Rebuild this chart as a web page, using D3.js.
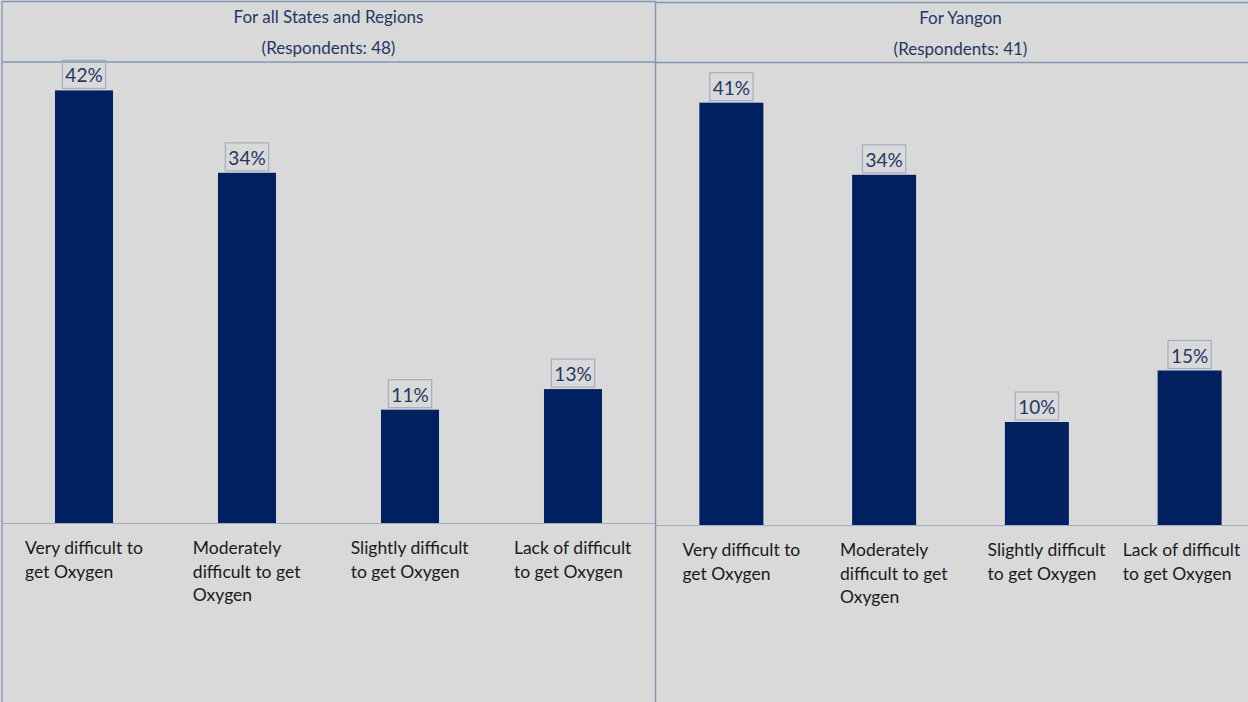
<!DOCTYPE html>
<html>
<head>
<meta charset="utf-8">
<script src="https://cdn.jsdelivr.net/npm/d3@7/dist/d3.min.js"></script>
<style>
  html, body { margin: 0; padding: 0; background: #d9d9d9; }
  svg { display: block; }
</style>
</head>
<body>
<svg id="chart" width="1248" height="702"></svg>
<script>
// Survey answers: how hard it was to get oxygen
const categories = ["very", "moderately", "slightly", "lack"];
const categoryLines = [
  ["Very difficult to", "get Oxygen"],
  ["Moderately", "difficult to get", "Oxygen"],
  ["Slightly difficult", "to get Oxygen"],
  ["Lack of difficult", "to get Oxygen"]
];
const allRegionsValues = [42, 34, 11, 13];
const yangonValues = [41, 34, 10, 15];
const panelTitles = ["For all States and Regions", "For Yangon"];
const respondentCounts = [48, 41];

const W = 1248, H = 702;
const svg = d3.select("#chart");
const borderColor = "#8497b0";
const navy = "#1f3864";
const barColor = "#002060";
const font = "Lato, 'Open Sans', sans-serif";

// Panel geometry
const panels = [
  { values: allRegionsValues, title: panelTitles[0], n: respondentCounts[0],
    left: 2, right: 655, top: 1.5, headerBottom: 62, baseline: 523,
    band: [2.5, 654.5], padInner: 0.644, titleY: [23, 54], labelShift: 0 },
  { values: yangonValues, title: panelTitles[1], n: respondentCounts[1],
    left: 655, right: 1266, top: 2.5, headerBottom: 62.5, baseline: 525,
    band: [655, 1266], padInner: 0.581, titleY: [24, 55], labelShift: 10 }
];
const pxPerPercent = 10.3;

panels.forEach(p => {
  const g = svg.append("g");

  // frame lines: top, header separator
  g.append("line").attr("x1", p.left).attr("x2", Math.min(p.right, W))
    .attr("y1", p.top).attr("y2", p.top)
    .attr("stroke", borderColor).attr("stroke-width", 1.4);
  g.append("line").attr("x1", p.left).attr("x2", Math.min(p.right, W))
    .attr("y1", p.headerBottom).attr("y2", p.headerBottom)
    .attr("stroke", borderColor).attr("stroke-width", 1.3);

  // header text
  g.append("text").attr("x", (p.left + p.right) / 2).attr("y", p.titleY[0])
    .attr("text-anchor", "middle").attr("font-family", font).attr("font-size", 17)
    .attr("fill", navy).text(p.title);
  g.append("text").attr("x", (p.left + p.right) / 2).attr("y", p.titleY[1])
    .attr("text-anchor", "middle").attr("font-family", font).attr("font-size", 17)
    .attr("fill", navy).text(`(Respondents: ${p.n})`);

  const x = d3.scaleBand().domain(categories).range(p.band)
    .paddingInner(p.padInner).paddingOuter(p.padInner / 2);
  const y = d3.scaleLinear().domain([0, 50])
    .range([p.baseline, p.baseline - 50 * pxPerPercent]);

  const rows = categories.map((c, i) => ({ c, v: p.values[i], lines: categoryLines[i] }));

  // bars
  g.selectAll("rect.bar").data(rows).join("rect").attr("class", "bar")
    .attr("x", d => x(d.c)).attr("width", x.bandwidth())
    .attr("y", d => y(d.v)).attr("height", d => y(0) - y(d.v))
    .attr("fill", barColor);

  // category axis line
  g.append("line").attr("x1", p.left).attr("x2", Math.min(p.right, W))
    .attr("y1", p.baseline + 0.5).attr("y2", p.baseline + 0.5)
    .attr("stroke", "#a3adc2").attr("stroke-width", 1.2);

  // value labels in outlined boxes
  rows.forEach(d => {
    const cx = x(d.c) + x.bandwidth() / 2;
    const t = g.append("text").attr("x", cx).attr("y", y(d.v) - 8)
      .attr("text-anchor", "middle").attr("font-family", font).attr("font-size", 19)
      .attr("fill", navy).text(`${d.v}%`);
    const bb = t.node().getBBox();
    g.insert("rect", "text")
      .attr("x", cx - bb.width / 2 - 3).attr("width", bb.width + 6)
      .attr("y", y(d.v) - 30).attr("height", 28)
      .attr("fill", "none").attr("stroke", "#a3adc2").attr("stroke-width", 1.2);
  });

  // wrapped category labels: block centred on band, lines left-aligned,
  // kept inside the visible area
  rows.forEach(d => {
    const cx = x(d.c) + x.bandwidth() / 2 + p.labelShift;
    const t = g.append("text").attr("font-family", font).attr("font-size", 17.5)
      .attr("fill", "#1a1a1a");
    d.lines.forEach((ln, i) => {
      t.append("tspan").attr("x", 0).attr("y", p.baseline + 31 + i * 23.5).text(ln);
    });
    const bw = t.node().getBBox().width;
    const x0 = Math.min(cx - bw / 2, W - 7 - bw);
    t.attr("transform", `translate(${x0},0)`);
  });
});

// outer left border and panel divider
svg.append("line").attr("x1", 2).attr("x2", 2).attr("y1", 1).attr("y2", H)
  .attr("stroke", borderColor).attr("stroke-width", 1.3);
svg.append("line").attr("x1", 655.5).attr("x2", 655.5).attr("y1", 1).attr("y2", H)
  .attr("stroke", borderColor).attr("stroke-width", 1.5);
</script>
</body>
</html>
